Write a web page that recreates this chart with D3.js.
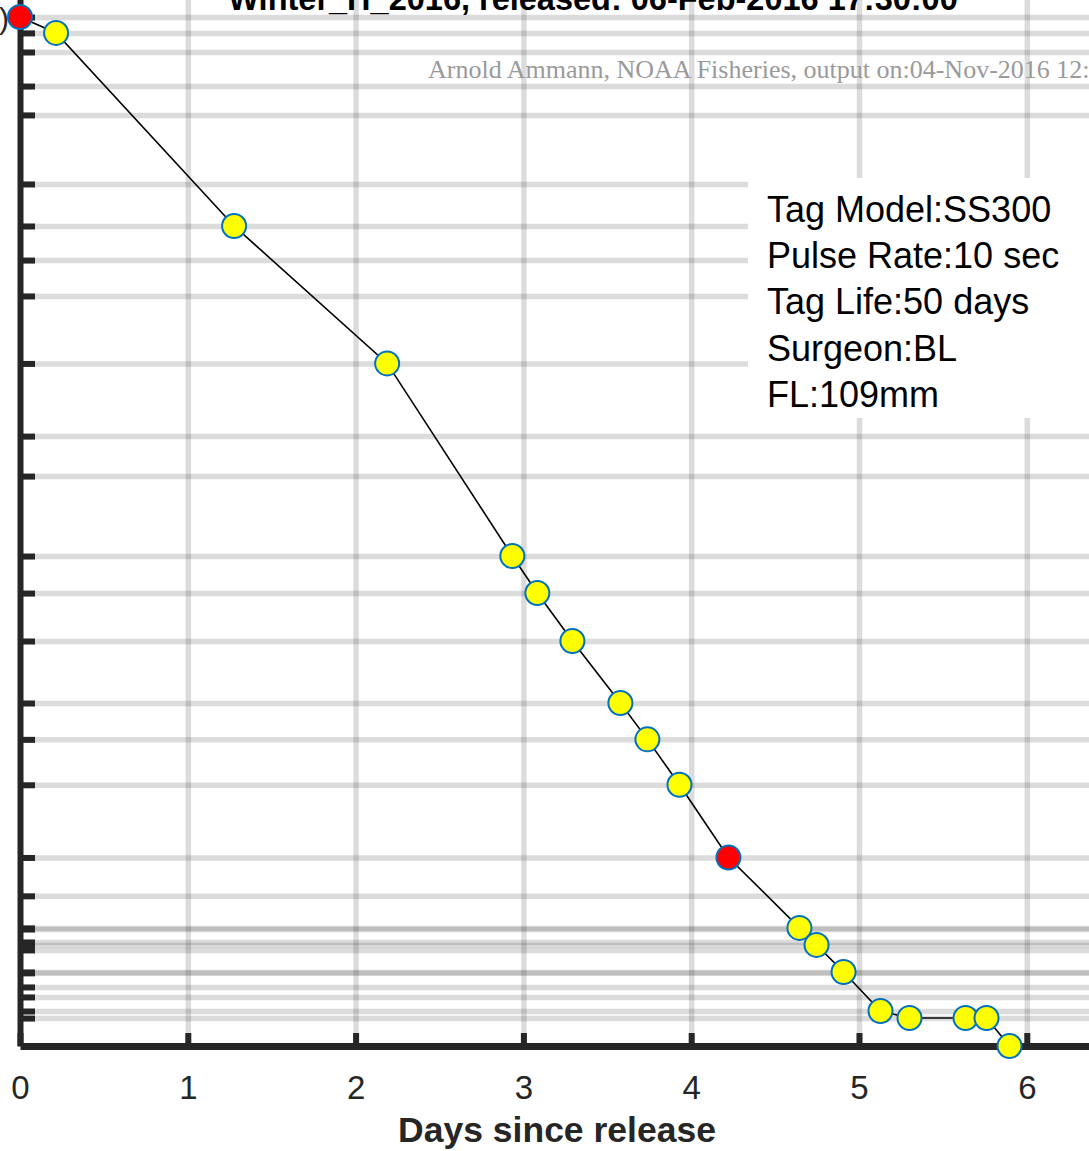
<!DOCTYPE html>
<html>
<head>
<meta charset="utf-8">
<script src="https://cdn.jsdelivr.net/npm/d3@7"></script>
<style>
  body { margin: 0; background: #fff; }
  svg { display: block; }
</style>
</head>
<body>
<svg id="chart"></svg>
<script>
// detections: days since release vs river km of the receiver
const days = [0, 0.215, 1.276, 2.188, 2.934, 3.083, 3.292, 3.578, 3.739, 3.93,
  4.222, 4.645, 4.747, 4.908, 5.128, 5.301, 5.635, 5.76, 5.897];
const riverKm = [453, 446, 361, 300.5, 215.7, 199.4, 178.3, 151, 135, 115,
  83, 52, 44.5, 32.6, 15.4, 12.3, 12.3, 12.3, 0];
// red = release site / key gate, yellow = ordinary receiver
const markerKind = ['red', 'yellow', 'yellow', 'yellow', 'yellow', 'yellow', 'yellow',
  'yellow', 'yellow', 'yellow', 'red', 'yellow', 'yellow', 'yellow', 'yellow',
  'yellow', 'yellow', 'yellow', 'yellow'];

// receiver locations (y ticks)
const stationKm = [453, 446, 437.6, 422.6, 409.9, 379.5, 361, 346, 330.2, 300.5,
  268.5, 250.9, 215.7, 199.4, 178.3, 151, 135, 115, 83, 66.1, 52, 51.5, 45.8,
  44.5, 42.3, 32.6, 32.2, 26, 21.6, 15.4, 12.3];
const dayTicks = [0, 1, 2, 3, 4, 5, 6];

const titleText = 'Winter_H_2016, released: 06-Feb-2016 17:30:00';
const creditText = 'Arnold Ammann, NOAA Fisheries, output on:04-Nov-2016 12:';
const releaseLabel = 'Release (453)';
const xLabel = 'Days since release';
const tagInfo = ['Tag Model:SS300', 'Pulse Rate:10 sec', 'Tag Life:50 days',
  'Surgeon:BL', 'FL:109mm'];

const w = 1089;
const h = 1151;
const axisColor = '#262626';
const font = '"Liberation Sans", Arial, Helvetica, sans-serif';

const svg = d3.select('#chart').attr('width', w).attr('height', h);
svg.append('rect').attr('width', w).attr('height', h).attr('fill', '#fff');

const pxPerKm = 2.2715;
const xScale = d3.scaleLinear().domain([0, 7]).range([20, 20 + 7 * 167.8]);
const yScale = d3.scaleLinear().domain([0, 470]).range([1046, 1046 - 470 * pxPerKm]);

// vertical grid
const vGrid = svg.append('g')
  .attr('transform', 'translate(0,1046)')
  .call(d3.axisBottom(xScale).tickValues(dayTicks.slice(1)).tickSize(-1100).tickFormat(''));
vGrid.select('.domain').remove();
vGrid.selectAll('line')
  .attr('stroke', axisColor).attr('stroke-opacity', 0.16).attr('stroke-width', 5.5);

// horizontal grid
const hGrid = svg.append('g')
  .attr('transform', 'translate(20,0)')
  .call(d3.axisLeft(yScale).tickValues(stationKm).tickSize(-1100).tickFormat(''));
hGrid.select('.domain').remove();
hGrid.selectAll('line')
  .attr('stroke', axisColor).attr('stroke-opacity', 0.16).attr('stroke-width', 5.5);

// credit line
svg.append('text')
  .attr('x', 428).attr('y', 78)
  .attr('font-family', '"Liberation Serif", "Times New Roman", serif')
  .attr('font-size', 26)
  .attr('fill', '#9a9a9a')
  .text(creditText);

// tag info box
svg.append('rect')
  .attr('x', 748).attr('y', 178).attr('width', 400).attr('height', 240)
  .attr('fill', '#fff');
svg.append('g')
  .selectAll('text')
  .data(tagInfo)
  .enter()
  .append('text')
  .attr('x', 767)
  .attr('y', (d, i) => 222 + i * 46.2)
  .attr('font-family', font)
  .attr('font-size', 36)
  .attr('fill', '#000')
  .text((d) => d);

// detection track
const line = d3.line()
  .x((d) => xScale(d[0]))
  .y((d) => yScale(d[1]));
const pts = days.map((d, i) => [d, riverKm[i], markerKind[i]]);

svg.append('path')
  .datum(pts)
  .attr('d', line)
  .attr('fill', 'none')
  .attr('stroke', '#000')
  .attr('stroke-width', 1.6);

// axes
const yAxis = svg.append('g')
  .attr('transform', 'translate(20,0)')
  .call(d3.axisLeft(yScale).tickValues(stationKm).tickSize(-15).tickSizeOuter(0).tickFormat(''));
yAxis.select('.domain').attr('stroke', axisColor).attr('stroke-width', 6);
yAxis.selectAll('line').attr('stroke', axisColor).attr('stroke-width', 6);

const xAxis = svg.append('g')
  .attr('transform', 'translate(0,1046)')
  .call(d3.axisBottom(xScale).tickValues(dayTicks).tickSize(-13).tickSizeOuter(0)
    .tickPadding(30).tickFormat(d3.format('d')));
xAxis.select('.domain').attr('stroke', axisColor).attr('stroke-width', 7);
xAxis.selectAll('line').attr('stroke', axisColor).attr('stroke-width', 6);
xAxis.selectAll('text')
  .attr('font-family', font)
  .attr('font-size', 33)
  .attr('fill', axisColor);

// markers on top
svg.append('g')
  .selectAll('circle')
  .data(pts)
  .enter()
  .append('circle')
  .attr('cx', (d) => xScale(d[0]))
  .attr('cy', (d) => yScale(d[1]))
  .attr('r', 12)
  .attr('fill', (d) => (d[2] === 'red' ? '#ff0000' : '#ffff00'))
  .attr('stroke', '#0072bd')
  .attr('stroke-width', 2);

// release label (mostly cut off at the left edge)
svg.append('text')
  .attr('x', 9).attr('y', 29)
  .attr('text-anchor', 'end')
  .attr('font-family', font)
  .attr('font-size', 30)
  .attr('fill', axisColor)
  .text(releaseLabel);

// title, cut off at the top
svg.append('text')
  .attr('x', 593).attr('y', 10)
  .attr('text-anchor', 'middle')
  .attr('font-family', font)
  .attr('font-weight', 'bold')
  .attr('font-size', 32.5)
  .attr('fill', '#000')
  .text(titleText);

// x label
svg.append('text')
  .attr('x', 557).attr('y', 1142)
  .attr('text-anchor', 'middle')
  .attr('font-family', font)
  .attr('font-weight', 'bold')
  .attr('font-size', 35.5)
  .attr('fill', axisColor)
  .text(xLabel);
</script>
</body>
</html>
